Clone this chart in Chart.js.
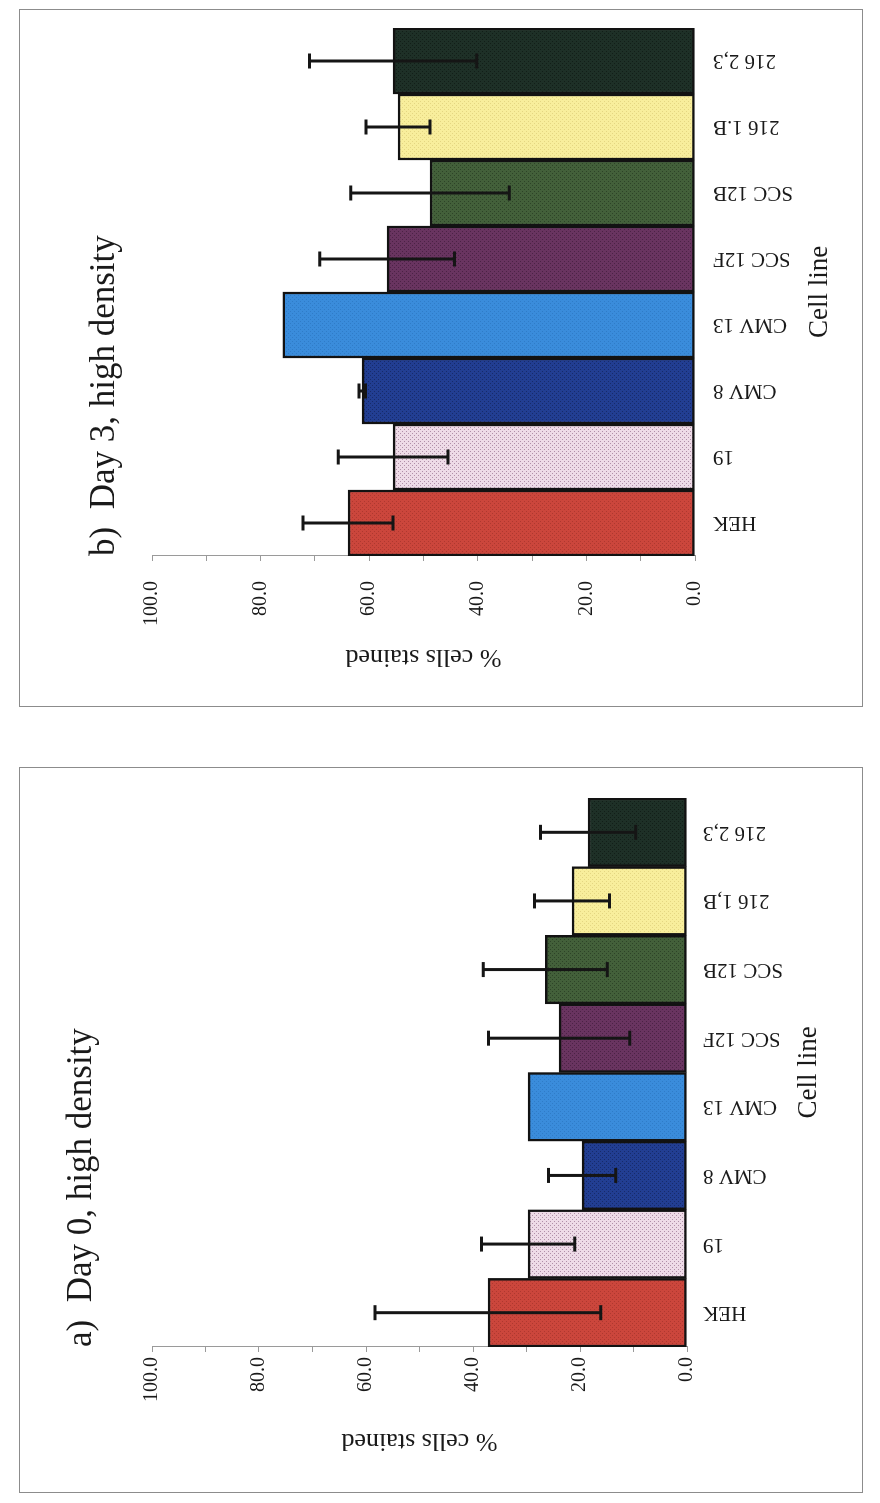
<!DOCTYPE html>
<html><head><meta charset="utf-8">
<script src="https://cdn.jsdelivr.net/npm/chart.js@4.4.1/dist/chart.umd.min.js"></script>
<style>
html,body{margin:0;padding:0;background:#fff;}
body{width:880px;height:1503px;position:relative;overflow:hidden;}
.panel{position:absolute;outline:1px solid #8c8c8c;transform:rotate(-90deg);transform-origin:50% 50%;background:#fff;}
.panel canvas{display:block;}
</style></head><body>
<div class="panel" style="left:93px;top:-63px;width:696px;height:842px"><canvas id="cb" width="696" height="842"></canvas></div>
<div class="panel" style="left:79px;top:709px;width:724px;height:842px"><canvas id="ca" width="724" height="842"></canvas></div>
<script>
// ---- data ----
const categoriesA = ['HEK', '19', 'CMV 8', 'CMV 13', 'SCC 12F', 'SCC 12B', '216 1,B', '216 2,3'];
const meansA = [37.2, 29.7, 19.6, 29.7, 23.9, 26.5, 21.5, 18.5];
const sdA = [21.1, 8.7, 6.3, null, 13.2, 11.6, 7.0, 8.9];

const categoriesB = ['HEK', '19', 'CMV 8', 'CMV 13', 'SCC 12F', 'SCC 12B', '216 1.B', '216 2,3'];
const meansB = [63.9, 55.6, 61.3, 75.9, 56.7, 48.8, 54.7, 55.6];
const sdB = [8.3, 10.1, 0.6, null, 12.4, 14.6, 5.9, 15.4];

const titleA = 'a)  Day 0, high density';
const titleB = 'b)  Day 3, high density';
const yTitle = '% cells stained';
const xTitle = 'Cell line';

// ---- styles ----
const FONT = "'Liberation Serif', 'Times New Roman', serif";
const baseColors = ['#CB463C', '#EEDBE7', '#223E92', '#3A8CDB', '#693460', '#43603A', '#F8EE9C', '#1E3027'];
const dotColors  = ['#AE382F', '#B08FA8', '#162A6A', '#2F7CC8', '#4B2245', '#2D4327', '#E4D682', '#121E18'];

function makePattern(base, dot) {
  const c = document.createElement('canvas');
  c.width = 4; c.height = 4;
  const g = c.getContext('2d');
  g.fillStyle = base; g.fillRect(0, 0, 4, 4);
  g.fillStyle = dot;
  g.fillRect(0, 0, 1, 1); g.fillRect(2, 2, 1, 1);
  return g.createPattern(c, 'repeat');
}

const errorBars = {
  id: 'errorBars',
  afterDatasetsDraw(chart, args, opts) {
    const meta = chart.getDatasetMeta(0);
    const ys = chart.scales.y;
    const ctx = chart.ctx;
    const vals = chart.data.datasets[0].data;
    ctx.save();
    ctx.strokeStyle = '#151515';
    ctx.lineWidth = 3;
    (opts.sd || []).forEach((s, i) => {
      if (s == null) return;
      const x = meta.data[i].x;
      const yt = ys.getPixelForValue(vals[i] + s);
      const yb = ys.getPixelForValue(vals[i] - s);
      ctx.beginPath();
      ctx.moveTo(x, yt); ctx.lineTo(x, yb);
      ctx.moveTo(x - 7.5, yt); ctx.lineTo(x + 7.5, yt);
      ctx.moveTo(x - 7.5, yb); ctx.lineTo(x + 7.5, yb);
      ctx.stroke();
    });
    ctx.restore();
  }
};

function build(id, labels, values, sds, title, L) {
  const ctx = document.getElementById(id).getContext('2d');
  const fills = baseColors.map((b, i) => makePattern(b, dotColors[i]));
  return new Chart(ctx, {
    type: 'bar',
    data: {
      labels: labels,
      datasets: [{
        data: values,
        backgroundColor: fills,
        borderColor: '#121212',
        borderWidth: 2.5,
        borderSkipped: false,
        barPercentage: 1,
        categoryPercentage: 1
      }]
    },
    plugins: [errorBars],
    options: {
      responsive: false,
      animation: false,
      devicePixelRatio: 1,
      layout: { padding: { left: L.padLeft, right: L.padRight, top: 0, bottom: L.padBottom } },
      plugins: {
        legend: { display: false },
        tooltip: { enabled: false },
        errorBars: { sd: sds },
        title: {
          display: true, text: title, align: 'start', fullSize: false, color: '#1a1a1a',
          font: { family: FONT, size: 35, weight: 'normal' },
          padding: { top: L.titleTop, bottom: L.titleBottom }
        }
      },
      scales: {
        x: {
          afterFit: s => { s.height = L.xHeight; },
          grid: { display: false, drawTicks: false },
          border: { display: false },
          ticks: { minRotation: 90, maxRotation: 90, autoSkip: false, padding: L.xTickPad, color: '#1a1a1a',
                   font: { family: FONT, size: 21 } },
          title: { display: true, text: xTitle, color: '#1a1a1a', font: { family: FONT, size: 27 } }
        },
        y: {
          min: 0, max: 100,
          afterFit: s => { s.width = L.yWidth; },
          grid: { drawOnChartArea: false, drawTicks: true, tickLength: 5, color: '#9a9a9a' },
          border: { display: true, color: '#9a9a9a', width: 1 },
          ticks: { stepSize: 10, autoSkip: false, padding: L.yTickPad, color: '#1a1a1a',
                   font: { family: FONT, size: 20 },
                   callback: v => (v % 20 === 0 ? v.toFixed(1) : '') },
          title: { display: true, text: yTitle, color: '#1a1a1a', font: { family: FONT, size: 26 } }
        }
      }
    }
  });
}

build('ca', categoriesA, meansA, sdA, titleA,
  { padLeft: 32, padRight: 30, padBottom: 33, titleTop: 41, titleBottom: 49, xHeight: 142, yWidth: 113, xTickPad: 16, yTickPad: 5 });
build('cb', categoriesB, meansB, sdB, titleB,
  { padLeft: 30, padRight: 18, padBottom: 22, titleTop: 64, titleBottom: 26, xHeight: 145, yWidth: 120, xTickPad: 18, yTickPad: 20 });
</script>
</body></html>
